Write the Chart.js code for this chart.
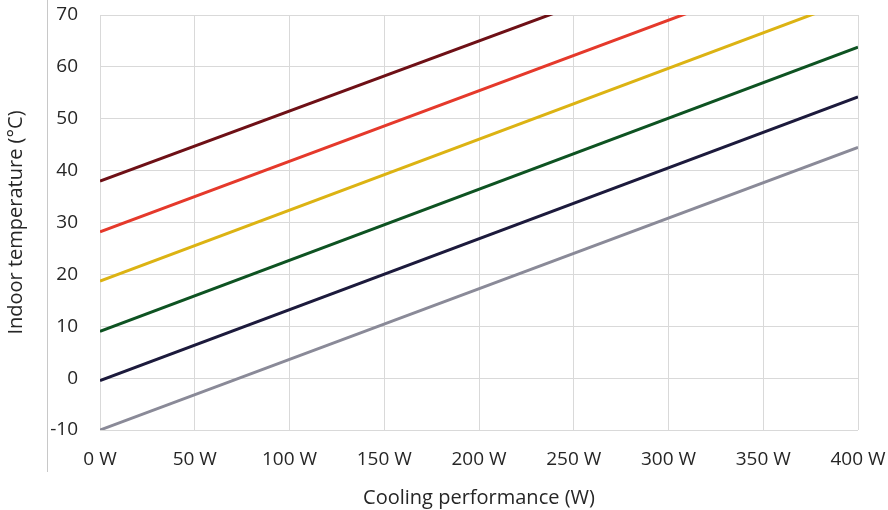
<!DOCTYPE html>
<html>
<head>
<meta charset="utf-8">
<script src="https://cdn.jsdelivr.net/npm/chart.js@4/dist/chart.umd.min.js"></script>
<style>
  html, body { margin: 0; padding: 0; background: #fff; }
  #wrap { width: 888px; height: 510px; position: relative; }
</style>
</head>
<body>
<div id="wrap"><canvas id="chart"></canvas></div>
<script>
"use strict";

// cooling performance in W, one point at each end of every curve
var power = [0, 400];

// indoor temperature (°C) at 0 W and at 400 W, per curve
var tempDarkRed = [38, 92];
var tempRed = [28.2, 82.6];
var tempYellow = [18.7, 73.4];
var tempGreen = [9, 63.8];
var tempNavy = [-0.5, 54.2];
var tempGray = [-10, 44.5];

var xTicks = [0, 50, 100, 150, 200, 250, 300, 350, 400];
var yTicks = [-10, 0, 10, 20, 30, 40, 50, 60, 70];

var textColor = '#262626';
var gridColor = '#d9d9d9';

function toPoints(values) {
  var pts = [];
  for (var i = 0; i < power.length; ++i) {
    pts.push({ x: power[i], y: values[i] });
  }
  return pts;
}

function series(values, color) {
  return {
    data: toPoints(values),
    borderColor: color,
    borderWidth: 3,
    pointRadius: 0,
    tension: 0,
    fill: false
  };
}

// labels may hang over the plot edges, the layout padding holds the room
function noOverhang(scale) {
  scale.paddingTop = 0;
  scale.paddingBottom = 0;
  scale.paddingLeft = 0;
  scale.paddingRight = 0;
}

// thin rule left of the y tick labels
var leftRule = {
  id: 'leftRule',
  beforeDraw: function(chart) {
    var ctx = chart.ctx;
    ctx.save();
    ctx.strokeStyle = '#c8c8c8';
    ctx.lineWidth = 1;
    ctx.beginPath();
    ctx.moveTo(47.5, 0);
    ctx.lineTo(47.5, 472);
    ctx.stroke();
    ctx.restore();
  }
};

new Chart(document.getElementById('chart'), {
  type: 'line',
  data: {
    datasets: [
      series(tempDarkRed, '#6e1016'),
      series(tempRed, '#e5392b'),
      series(tempYellow, '#dcb313'),
      series(tempGreen, '#0e5322'),
      series(tempNavy, '#1c1a3c'),
      series(tempGray, '#8a8a98')
    ]
  },
  options: {
    responsive: true,
    maintainAspectRatio: false,
    animation: false,
    layout: { padding: { top: 15, right: 30, left: 0, bottom: 0 } },
    plugins: {
      legend: { display: false },
      tooltip: { enabled: false }
    },
    scales: {
      x: {
        type: 'linear',
        min: 0,
        max: 400,
        afterBuildTicks: function(scale) {
          scale.ticks = xTicks.map(function(v) { return { value: v }; });
        },
        afterFit: function(scale) { scale.height = 80; noOverhang(scale); },
        grid: { color: gridColor, drawTicks: false },
        border: { display: false },
        ticks: {
          padding: 18,
          color: textColor,
          font: { family: 'Open Sans', size: 19 },
          maxRotation: 0,
          callback: function(v) { return v + ' W'; }
        },
        title: {
          display: true,
          text: 'Cooling performance (W)',
          color: textColor,
          font: { family: 'Open Sans', size: 20 },
          padding: { top: 10, bottom: 0 }
        }
      },
      y: {
        min: -10,
        max: 70,
        afterBuildTicks: function(scale) {
          scale.ticks = yTicks.map(function(v) { return { value: v }; });
        },
        afterFit: function(scale) { scale.width = 100; noOverhang(scale); },
        grid: { color: gridColor, drawTicks: false },
        border: { display: false },
        ticks: {
          padding: 22,
          color: textColor,
          font: { family: 'Open Sans', size: 19 }
        },
        title: {
          display: true,
          text: 'Indoor temperature (°C)',
          color: textColor,
          font: { family: 'Open Sans', size: 20 },
          padding: { top: 4, bottom: 0 }
        }
      }
    }
  },
  plugins: [leftRule]
});
</script>
</body>
</html>
